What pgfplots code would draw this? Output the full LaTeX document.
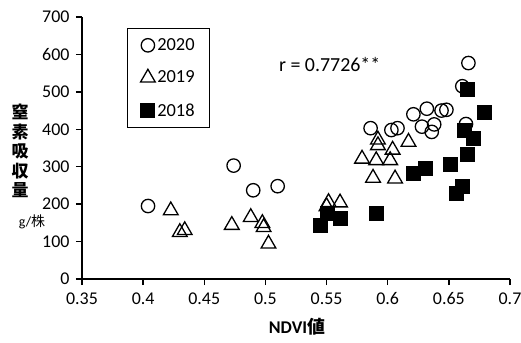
\documentclass[border=0pt]{standalone}
\usepackage{pgfplots}
\pgfplotsset{compat=1.18}
\usepackage{fontspec}
\setmainfont{Carlito}
\newfontfamily\jp{Noto Sans CJK JP}
\begin{document}
\begin{tikzpicture}
\path[use as bounding box] (-82bp,-64bp) rectangle (439bp,279bp);
\begin{axis}[
  at={(0,0)}, anchor=south west,
  scale only axis, width=428bp, height=262bp,
  xmin=0.35, xmax=0.7, ymin=0, ymax=700,
  axis x line*=bottom, axis y line*=left,
  axis line style={line width=1.3bp, black, -},
  xtick={0.35,0.4,0.45,0.5,0.55,0.6,0.65,0.7},
  xticklabels={0.35,0.4,0.45,0.5,0.55,0.6,0.65,0.7},
  ytick={0,100,...,700},
  tick align=outside, major tick length=6bp,
  tick style={line width=1.3bp, black},
  /pgf/number format/assume math mode=true,
  ticklabel style={font=\fontsize{18}{20}\selectfont},
  xticklabel style={yshift=-4bp},
  yticklabel style={xshift=-3bp},
  legend style={at={(rel axis cs:0.105,0.958)}, anchor=north west,
    draw=black, line width=1.2bp, font=\fontsize{18.5}{20}\selectfont,
    inner xsep=13bp, inner ysep=8bp, row sep=15bp},
  legend cell align=left,
  legend image code/.code={\draw plot coordinates {(0bp,0bp)};},
]
\addplot[only marks, mark=o, mark size=6.7bp, line width=1.3bp, black] coordinates {
(0.404,195) (0.474,303) (0.490,237) (0.510,248) (0.586,403) (0.603,398)
(0.608,403) (0.621,440) (0.628,407) (0.632,455) (0.636,393) (0.638,413)
(0.644,450) (0.648,452) (0.661,515) (0.664,414) (0.666,577)
};
\addlegendentry{2020}
\addplot[only marks, mark=triangle, mark size=8.5bp, line width=1.3bp, black] coordinates {
(0.4226,183) (0.430,125) (0.434,130) (0.4725,144) (0.488,165) (0.4975,149)
(0.4985,138) (0.5025,94) (0.550,194) (0.5516,205) (0.561,204) (0.579,321)
(0.588,270) (0.5906,317) (0.592,372) (0.592,357) (0.602,317) (0.604,345)
(0.606,268) (0.617,366)
};
\addlegendentry{2019}
\addplot[only marks, mark=square*, mark size=7bp, line width=1bp, black] coordinates {
(0.545,142) (0.551,176) (0.561,162) (0.591,175) (0.621,283) (0.631,294)
(0.651,305) (0.656,229) (0.661,247) (0.665,333) (0.663,398) (0.670,376)
(0.665,505) (0.679,445)
};
\addlegendentry{2018}
\node[anchor=west, font=\fontsize{20}{22}\selectfont, inner sep=0pt] at (axis cs:0.511,572) {r = 0.7726**};
\end{axis}
\node[font=\fontsize{17}{17}\selectfont\jp\bfseries, align=center, inner sep=0pt] at (-62bp,128bp)
  {窒\\[2.5bp]素\\[2.5bp]吸\\[2.5bp]収\\[2.5bp]量};
\node[font=\fontsize{14}{15}\selectfont, inner sep=0pt] at (-50bp,57bp) {g/{\jp 株}};
\node[font=\fontsize{18}{20}\selectfont\bfseries, inner sep=0pt] at (215bp,-48bp) {NDVI{\jp 値}};
\end{tikzpicture}
\end{document}
